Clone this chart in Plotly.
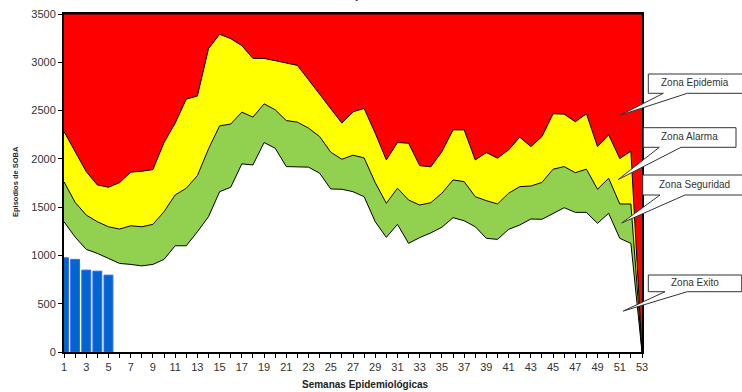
import plotly.graph_objects as go

# ---------------- data ----------------
semanas = list(range(1, 54))
Y_MAX = 3500

# upper limit of alarm zone (red / yellow boundary)
limite_alarma = [2283, 2080, 1868, 1730, 1706, 1754, 1862, 1872, 1889, 2169,
                 2370, 2619, 2650, 3141, 3290, 3245, 3172, 3040, 3040, 3017,
                 2996, 2968, 2819, 2667, 2515, 2370, 2487, 2522, 2266, 1989,
                 2169, 2162, 1930, 1917, 2075, 2300, 2300, 1989, 2065, 2007,
                 2093, 2225, 2127, 2231, 2467, 2463, 2384, 2467, 2127, 2249,
                 2003, 2080, 0]
# upper limit of security zone (yellow / green boundary)
limite_seguridad = [1762, 1550, 1418, 1349, 1297, 1273, 1307, 1297, 1322, 1453,
                    1626, 1696, 1826, 2103, 2342, 2360, 2484, 2432, 2570, 2508,
                    2397, 2380, 2318, 2231, 2069, 1996, 2038, 2010, 1754, 1540,
                    1696, 1574, 1522, 1546, 1644, 1782, 1764, 1608, 1567, 1533,
                    1644, 1712, 1719, 1756, 1893, 1920, 1857, 1893, 1685, 1799,
                    1533, 1533, 0]
# upper limit of success zone (green / white boundary)
limite_exito = [1349, 1190, 1063, 1021, 969, 917, 907, 892, 907, 959,
                1100, 1100, 1245, 1401, 1660, 1706, 1948, 1937, 2169, 2110,
                1920, 1920, 1914, 1851, 1688, 1685, 1660, 1608, 1349, 1187,
                1322, 1125, 1185, 1233, 1292, 1391, 1359, 1297, 1177, 1166,
                1270, 1315, 1377, 1374, 1436, 1494, 1446, 1446, 1332, 1436,
                1177, 1125, 0]
# reported episodes
semanas_casos = [1, 2, 3, 4, 5]
casos = [975, 959, 848, 837, 796]

y_ticks = [0, 500, 1000, 1500, 2000, 2500, 3000, 3500]
x_ticktext = [str(s) if s % 2 == 1 else "" for s in semanas]

zonas = ["Zona Epidemia", "Zona Alarma", "Zona Seguridad", "Zona Exito"]

# ---------------- figure ----------------
FONT = "Arial, Liberation Sans, sans-serif"
W_FIG, H_FIG = 742, 392
L, T, R, B = 64, 14, 100, 40
PW, PH = W_FIG - L - R, H_FIG - T - B


def px(x):
    return (x - L) / PW


def py(y):
    return (T + PH - y) / PH


fig = go.Figure()
line = dict(color="black", width=1)
fig.add_trace(go.Bar(x=semanas_casos, y=casos, width=0.8,
                     marker=dict(color="#0066CC", line=dict(color="#3366FF", width=1)),
                     showlegend=False))
fig.add_trace(go.Scatter(x=semanas, y=limite_exito, mode="lines",
                         line=line, showlegend=False))
fig.add_trace(go.Scatter(x=semanas, y=limite_seguridad, mode="lines",
                         fill="tonexty", fillcolor="#92D050", line=line,
                         showlegend=False))
fig.add_trace(go.Scatter(x=semanas, y=limite_alarma, mode="lines",
                         fill="tonexty", fillcolor="#FFFF00", line=line,
                         showlegend=False))
fig.add_trace(go.Scatter(x=semanas, y=[Y_MAX] * len(semanas), mode="lines",
                         fill="tonexty", fillcolor="#FF0000", line=line,
                         hoverinfo="skip", showlegend=False))

axis_common = dict(showline=True, linecolor="black", linewidth=2, mirror=True,
                   showgrid=False, zeroline=False, ticks="outside", ticklen=4,
                   tickcolor="black", automargin=False,
                   tickfont=dict(family=FONT, size=11, color="#333333"))
fig.update_xaxes(range=[1, 53], tickmode="array", tickvals=semanas,
                 ticktext=x_ticktext, **axis_common)
fig.update_yaxes(range=[0, Y_MAX], tickmode="array", tickvals=y_ticks,
                 **axis_common)

# callouts: (text, box left, top, right, bottom, base1, base2, tip x, tip y, text x)
callouts = [
    (zonas[0], 648.3, 74.0, 770, 93.3, 663.3, 687.3, 620.7, 115.0, 695),
    (zonas[1], 643.3, 127.7, 736.0, 147.3, 659.3, 681.0, 618.3, 179.5, 689),
    (zonas[2], 642.7, 175.0, 770, 195.0, 660.0, 685.0, 621.7, 223.0, 694),
    (zonas[3], 648.3, 275.0, 741.7, 291.7, 665.0, 687.3, 623.3, 311.0, 695),
]
shapes = []
annotations = []
for txt, bl, bt, br, bb, b1, b2, tx, ty, cx in callouts:
    path = (f"M {px(bl)},{py(bt)} L {px(br)},{py(bt)} L {px(br)},{py(bb)} "
            f"L {px(b2)},{py(bb)} L {px(tx)},{py(ty)} L {px(b1)},{py(bb)} "
            f"L {px(bl)},{py(bb)} Z")
    shapes.append(dict(type="path", path=path, xref="paper", yref="paper",
                       fillcolor="white", line=dict(color="#333333", width=1),
                       layer="above"))
    annotations.append(dict(text=txt, x=px(cx), y=py((bt + bb) / 2 - 1),
                            xref="paper", yref="paper", showarrow=False,
                            xanchor="center", yanchor="middle",
                            font=dict(family=FONT, size=10, color="#333333")))

annotations.append(dict(text="<b>Semanas Epidemiológicas</b>", x=px(365), y=py(384),
                        xref="paper", yref="paper", showarrow=False,
                        xanchor="center", yanchor="middle",
                        font=dict(family=FONT, size=10, color="#222222")))
annotations.append(dict(text="<b>Episodios de SOBA</b>", x=px(15), y=py(182),
                        xref="paper", yref="paper", showarrow=False, textangle=-90,
                        xanchor="center", yanchor="middle",
                        font=dict(family=FONT, size=7.5, color="#222222")))
annotations.append(dict(text="<b>Canal Endémico de Episodios de SOBA hasta SE 5</b>",
                        x=px(378), y=py(3), xref="paper", yref="paper",
                        showarrow=False, xanchor="center", yanchor="bottom",
                        font=dict(family=FONT, size=12, color="#222222")))

fig.update_layout(width=W_FIG, height=H_FIG, autosize=False,
                  margin=dict(l=L, r=R, t=T, b=B),
                  paper_bgcolor="white", plot_bgcolor="white",
                  shapes=shapes, annotations=annotations, bargap=0.2)

fig.write_html("out.html", config={"displayModeBar": False},
               post_script="document.body.style.margin='0';document.body.style.overflow='hidden';")
